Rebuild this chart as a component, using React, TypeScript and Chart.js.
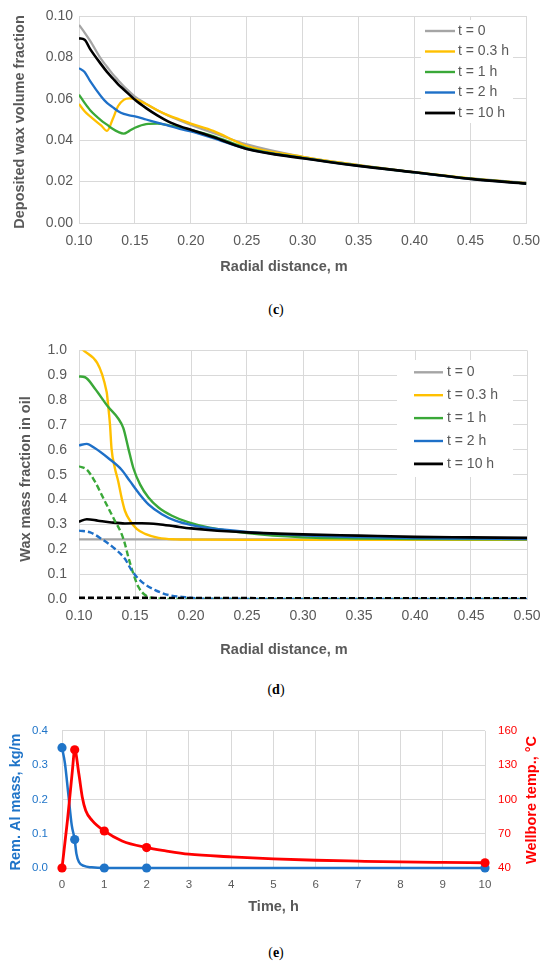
import React, { useEffect, useRef } from "react";
import { Chart, registerables } from "chart.js";

Chart.register(...registerables);

// ---------- Chart (c): deposited wax volume fraction ----------
const rC = [0.10, 0.105, 0.11, 0.12, 0.125, 0.13, 0.135, 0.14, 0.145, 0.15, 0.16, 0.17, 0.18, 0.19, 0.20, 0.22, 0.25, 0.30, 0.35, 0.40, 0.45, 0.50];
const wax0C = [0.0957, 0.092, 0.088, 0.079, 0.0755, 0.072, 0.069, 0.066, 0.0635, 0.061, 0.0575, 0.0545, 0.0518, 0.0495, 0.0474, 0.0435, 0.038, 0.032, 0.028, 0.0245, 0.0215, 0.0195];
const wax03C = [0.0575, 0.054, 0.0515, 0.047, 0.0445, 0.050, 0.0565, 0.0595, 0.0602, 0.0598, 0.0575, 0.0545, 0.052, 0.050, 0.048, 0.0445, 0.0372, 0.032, 0.028, 0.0246, 0.0215, 0.0192];
const wax1C = [0.062, 0.058, 0.0545, 0.0495, 0.0475, 0.0455, 0.044, 0.0432, 0.0445, 0.046, 0.0478, 0.048, 0.0472, 0.0462, 0.045, 0.042, 0.0362, 0.0315, 0.0277, 0.0245, 0.0214, 0.0191];
const wax2C = [0.0748, 0.073, 0.0685, 0.061, 0.058, 0.056, 0.054, 0.0527, 0.052, 0.0515, 0.050, 0.0485, 0.047, 0.0455, 0.0442, 0.041, 0.0358, 0.0313, 0.0276, 0.0245, 0.0213, 0.019];
const wax10C = [0.0892, 0.0885, 0.084, 0.0765, 0.073, 0.070, 0.067, 0.0645, 0.062, 0.0595, 0.0555, 0.052, 0.049, 0.0468, 0.045, 0.0415, 0.0358, 0.0313, 0.0276, 0.0245, 0.0213, 0.019];

// ---------- Chart (d): wax mass fraction in oil ----------
const rD0 = [0.10, 0.50];
const oil0D = [0.24, 0.24];
const rD03 = [0.10, 0.1247, 0.126, 0.1277, 0.129, 0.132, 0.135, 0.138, 0.141, 0.1455, 0.1515, 0.159, 0.171, 0.186, 0.20, 0.25, 0.30, 0.40, 0.50];
const oil03D = [1.02, 0.833, 0.78, 0.70, 0.607, 0.527, 0.474, 0.408, 0.355, 0.315, 0.282, 0.262, 0.246, 0.240, 0.239, 0.238, 0.238, 0.238, 0.238];
const rD1 = [0.10, 0.1054, 0.1143, 0.126, 0.135, 0.1396, 0.144, 0.1485, 0.1545, 0.162, 0.171, 0.183, 0.198, 0.2155, 0.25, 0.30, 0.35, 0.40, 0.50];
const oil1D = [0.895, 0.892, 0.846, 0.773, 0.726, 0.687, 0.607, 0.527, 0.461, 0.408, 0.368, 0.335, 0.308, 0.288, 0.265, 0.248, 0.243, 0.241, 0.240];
const rD2 = [0.10, 0.107, 0.114, 0.126, 0.138, 0.1455, 0.153, 0.162, 0.174, 0.186, 0.2006, 0.2155, 0.25, 0.30, 0.35, 0.40, 0.45, 0.50];
const oil2D = [0.618, 0.624, 0.607, 0.567, 0.52, 0.474, 0.428, 0.381, 0.341, 0.315, 0.297, 0.2855, 0.270, 0.256, 0.249, 0.245, 0.243, 0.241];
const rD10 = [0.10, 0.107, 0.117, 0.129, 0.141, 0.156, 0.171, 0.186, 0.20, 0.2155, 0.25, 0.30, 0.35, 0.40, 0.45, 0.50];
const oil10D = [0.311, 0.321, 0.315, 0.308, 0.304, 0.305, 0.301, 0.292, 0.284, 0.2775, 0.268, 0.26, 0.255, 0.25, 0.248, 0.246];
// dashed companions
const rD03d = [0.10, 0.50];
const oil03Dd = [0, 0];
const rD1d = [0.10, 0.107, 0.114, 0.123, 0.132, 0.138, 0.141, 0.144, 0.1485, 0.153, 0.159, 0.168, 0.186, 0.50];
const oil1Dd = [0.534, 0.52, 0.474, 0.394, 0.315, 0.262, 0.222, 0.169, 0.102, 0.049, 0.016, 0.003, 0, 0];
const rD2d = [0.10, 0.11, 0.12, 0.132, 0.141, 0.147, 0.156, 0.168, 0.18, 0.195, 0.2155, 0.50];
const oil2Dd = [0.275, 0.268, 0.242, 0.202, 0.162, 0.115, 0.069, 0.036, 0.016, 0.007, 0.001, 0];
const rD10d = [0.10, 0.20, 0.30, 0.50];
const oil10Dd = [0.005, 0.004, 0.003, 0.003];

// ---------- Chart (e): Al mass and wellbore temperature ----------
const tMarks = [0, 0.3, 1, 2, 10];
const alMarks = [0.351, 0.083, 0, 0, 0];
const tempMarks = [40, 143.5, 72.4, 57.9, 44.6];
const tAlCurve = [0, 0.07, 0.15, 0.23, 0.3, 0.34, 0.4, 0.52, 0.7, 1, 2, 10];
const alCurve = [0.351, 0.305, 0.215, 0.125, 0.083, 0.042, 0.0175, 0.006, 0.002, 0, 0, 0];
const tTempCurve = [0, 0.13, 0.245, 0.3, 0.4, 0.48, 0.56, 0.71, 1, 1.42, 2, 2.45, 3, 4, 5, 6, 7, 8, 9, 10];
const tempCurve = [40, 82, 125, 143.5, 122, 102, 90.4, 81.7, 72.4, 63.7, 57.9, 55, 52.1, 49.8, 48, 46.8, 46, 45.3, 44.9, 44.6];

const seriesLabels = ["t = 0", "t = 0.3 h", "t = 1 h", "t = 2 h", "t = 10 h"];

// ---------- styles ----------
const GRID = "#d9d9d9";
const TXT = "#595959";
const SANS = "'Liberation Sans', Arial, sans-serif";
const C_GREY = "#a5a5a5";
const C_YEL = "#ffc000";
const C_GRN = "#3aa838";
const C_BLU = "#1e70c8";
const C_BLK = "#000000";
const C_RED = "#ff0000";
const C_EBLU = "#1f74c8";

const pts = (xs: number[], ys: number[]) => xs.map((x, i) => ({ x, y: ys[i] }));

function line(label: string | undefined, xs: number[], ys: number[], color: string, width: number, dash: number[] = []) {
  return {
    label,
    data: pts(xs, ys),
    borderColor: color,
    backgroundColor: color,
    borderWidth: width,
    borderDash: dash,
    pointRadius: 0,
    cubicInterpolationMode: "monotone" as const,
    fill: false,
  };
}

function withOrder(ds: any[]) {
  return ds.map((d, i) => ({ ...d, order: ds.length - i }));
}

type TitleItem = { text: string; x: number; y: number; rot?: number; color: string; font: string };
function titlesPlugin(items: TitleItem[]) {
  return {
    id: "axisTitles",
    afterDraw(chart: any) {
      const ctx = chart.ctx;
      items.forEach((it) => {
        ctx.save();
        ctx.font = it.font;
        ctx.fillStyle = it.color;
        ctx.textAlign = "center";
        ctx.textBaseline = "middle";
        ctx.translate(it.x, it.y);
        if (it.rot) ctx.rotate(it.rot);
        ctx.fillText(it.text, 0, 0);
        ctx.restore();
      });
    },
  };
}

type LegendCfg = { box: [number, number, number, number]; x0: number; x1: number; tx: number; y0: number; dy: number };
function legendPlugin(cfg: LegendCfg) {
  return {
    id: "boxLegend",
    afterDraw(chart: any) {
      const ctx = chart.ctx;
      ctx.save();
      ctx.fillStyle = "#ffffff";
      ctx.fillRect(cfg.box[0], cfg.box[1], cfg.box[2], cfg.box[3]);
      const items = chart.data.datasets.filter((d: any) => !!d.label);
      items.forEach((d: any, i: number) => {
        const y = cfg.y0 + i * cfg.dy;
        ctx.strokeStyle = d.borderColor;
        ctx.lineWidth = d.borderColor === C_BLK ? 2.8 : 2.4;
        ctx.beginPath();
        ctx.moveTo(cfg.x0, y);
        ctx.lineTo(cfg.x1, y);
        ctx.stroke();
        ctx.fillStyle = TXT;
        ctx.font = `14px ${SANS}`;
        ctx.textAlign = "left";
        ctx.textBaseline = "middle";
        ctx.fillText(d.label, cfg.tx, y);
      });
      ctx.restore();
    },
  };
}

function baseOptions() {
  return {
    responsive: false,
    maintainAspectRatio: false,
    animation: false as const,
    events: [] as any[],
    plugins: { legend: { display: false }, tooltip: { enabled: false }, title: { display: false } },
  };
}

function configC(): any {
  const datasets = withOrder([
    line(seriesLabels[0], rC, wax0C, C_GREY, 2.3),
    line(seriesLabels[1], rC, wax03C, C_YEL, 2.3),
    line(seriesLabels[2], rC, wax1C, C_GRN, 2.3),
    line(seriesLabels[3], rC, wax2C, C_BLU, 2.3),
    line(seriesLabels[4], rC, wax10C, C_BLK, 2.6),
  ]);
  return {
    type: "line",
    data: { datasets },
    options: {
      ...baseOptions(),
      layout: { padding: { left: 0, right: 23, top: 16, bottom: 0 } },
      scales: {
        x: {
          type: "linear",
          min: 0.1,
          max: 0.5,
          ticks: { stepSize: 0.05, padding: 10, color: TXT, font: { family: SANS, size: 14 }, callback: (v: any) => Number(v).toFixed(2) },
          grid: { color: GRID, drawTicks: false },
          border: { color: GRID },
          afterFit: (s: any) => { s.height = 67; },
        },
        y: {
          type: "linear",
          min: 0,
          max: 0.1,
          ticks: { stepSize: 0.02, padding: 6, color: TXT, font: { family: SANS, size: 14 }, callback: (v: any) => Number(v).toFixed(2) },
          grid: { color: GRID, drawTicks: false },
          border: { color: GRID },
          afterFit: (s: any) => { s.width = 79; },
        },
      },
    },
    plugins: [
      titlesPlugin([
        { text: "Radial distance, m", x: 284, y: 267, color: TXT, font: `bold 14.5px ${SANS}` },
        { text: "Deposited wax volume fraction", x: 20, y: 122, rot: -Math.PI / 2, color: TXT, font: `bold 14.5px ${SANS}` },
      ]),
      legendPlugin({ box: [421, 20, 92, 103], x0: 425, x1: 455, tx: 458, y0: 31, dy: 20.5 }),
    ],
  };
}

function configD(): any {
  const datasets = withOrder([
    line(seriesLabels[0], rD0, oil0D, C_GREY, 2.2),
    line(seriesLabels[1], rD03, oil03D, C_YEL, 2.4),
    line(seriesLabels[2], rD1, oil1D, C_GRN, 2.4),
    line(seriesLabels[3], rD2, oil2D, C_BLU, 2.4),
    line(seriesLabels[4], rD10, oil10D, C_BLK, 2.6),
    line(undefined, rD03d, oil03Dd, C_YEL, 2.4, [6, 3]),
    line(undefined, rD1d, oil1Dd, C_GRN, 2.4, [6, 3]),
    line(undefined, rD2d, oil2Dd, C_BLU, 2.4, [6, 3]),
    line(undefined, rD10d, oil10Dd, C_BLK, 2.6, [6, 3]),
  ]);
  return {
    type: "line",
    data: { datasets },
    options: {
      ...baseOptions(),
      layout: { padding: { left: 0, right: 23, top: 18, bottom: 0 } },
      scales: {
        x: {
          type: "linear",
          min: 0.1,
          max: 0.5,
          ticks: { stepSize: 0.05, padding: 9, color: TXT, font: { family: SANS, size: 14 }, callback: (v: any) => Number(v).toFixed(2) },
          grid: { color: GRID, drawTicks: false },
          border: { color: GRID },
          afterFit: (s: any) => { s.height = 71; },
        },
        y: {
          type: "linear",
          min: 0,
          max: 1,
          ticks: { stepSize: 0.1, padding: 12, color: TXT, font: { family: SANS, size: 14 }, callback: (v: any) => Number(v).toFixed(1) },
          grid: { color: GRID, drawTicks: false },
          border: { color: GRID },
          afterFit: (s: any) => { s.width = 79; },
        },
      },
    },
    plugins: [
      titlesPlugin([
        { text: "Radial distance, m", x: 284, y: 320, color: TXT, font: `bold 14.5px ${SANS}` },
        { text: "Wax mass fraction in oil", x: 26, y: 149, rot: -Math.PI / 2, color: TXT, font: `bold 14.5px ${SANS}` },
      ]),
      legendPlugin({ box: [397, 30, 116, 117], x0: 414, x1: 443, tx: 447, y0: 42.3, dy: 22.9 }),
    ],
  };
}

function configE(): any {
  const marker = (xs: number[], ys: number[], color: string, axis: string) => ({
    data: pts(xs, ys),
    yAxisID: axis,
    showLine: false,
    pointRadius: 4.6,
    pointBorderWidth: 0,
    pointBackgroundColor: color,
    borderColor: color,
    backgroundColor: color,
    clip: false,
  });
  const curve = (xs: number[], ys: number[], color: string, axis: string, w: number) => ({
    ...line(undefined, xs, ys, color, w),
    yAxisID: axis,
    clip: false,
  });
  const datasets = withOrder([
    curve(tAlCurve, alCurve, C_EBLU, "y", 2.5),
    marker(tMarks, alMarks, C_EBLU, "y"),
    curve(tTempCurve, tempCurve, C_RED, "y2", 2.8),
    marker(tMarks, tempMarks, C_RED, "y2"),
  ]);
  return {
    type: "line",
    data: { datasets },
    options: {
      ...baseOptions(),
      layout: { padding: { left: 0, right: 0, top: 20, bottom: 0 } },
      scales: {
        x: {
          type: "linear",
          min: 0,
          max: 10,
          ticks: { stepSize: 1, padding: 10, color: TXT, font: { family: SANS, size: 11.5 } },
          grid: { color: GRID, drawTicks: false },
          border: { color: GRID },
          afterFit: (s: any) => { s.height = 57; },
        },
        y: {
          type: "linear",
          position: "left",
          min: 0,
          max: 0.4,
          ticks: { stepSize: 0.1, padding: 14, color: C_EBLU, font: { family: SANS, size: 11.5 }, callback: (v: any) => Number(v).toFixed(1) },
          grid: { color: GRID, drawTicks: false },
          border: { color: GRID },
          afterFit: (s: any) => { s.width = 62; },
        },
        y2: {
          type: "linear",
          position: "right",
          min: 40,
          max: 160,
          ticks: { stepSize: 30, padding: 13, color: C_RED, font: { family: SANS, size: 11.5 } },
          grid: { display: false, drawTicks: false },
          border: { display: false },
          afterFit: (s: any) => { s.width = 65; },
        },
      },
    },
    plugins: [
      titlesPlugin([
        { text: "Time, h", x: 273.5, y: 197, color: TXT, font: `bold 14.5px ${SANS}` },
        { text: "Rem. Al mass, kg/m", x: 15.5, y: 92, rot: -Math.PI / 2, color: C_EBLU, font: `bold 14.5px ${SANS}` },
        { text: "Wellbore temp., °C", x: 532, y: 90, rot: -Math.PI / 2, color: C_RED, font: `bold 14.5px ${SANS}` },
      ]),
    ],
  };
}

const captionStyle = (top: number): React.CSSProperties => ({
  position: "absolute",
  left: 0,
  width: 552,
  top,
  height: 16,
  lineHeight: "16px",
  textAlign: "center",
  fontFamily: "'Liberation Serif', 'Times New Roman', serif",
  fontSize: 14,
  color: "#000",
});

export default function App() {
  const refC = useRef<HTMLCanvasElement>(null);
  const refD = useRef<HTMLCanvasElement>(null);
  const refE = useRef<HTMLCanvasElement>(null);

  useEffect(() => {
    const charts = [
      new Chart(refC.current as HTMLCanvasElement, configC()),
      new Chart(refD.current as HTMLCanvasElement, configD()),
      new Chart(refE.current as HTMLCanvasElement, configE()),
    ];
    return () => charts.forEach((c) => c.destroy());
  }, []);

  return (
    <div style={{ position: "absolute", left: 0, top: 0, width: 550, height: 965, background: "#ffffff", overflow: "hidden" }}>
      <canvas ref={refC} width={550} height={290} style={{ position: "absolute", left: 0, top: 0, width: 550, height: 290 }} />
      <div style={captionStyle(302)}>(<b>c</b>)</div>
      <canvas ref={refD} width={550} height={340} style={{ position: "absolute", left: 0, top: 330, width: 550, height: 340 }} />
      <div style={captionStyle(682)}>(<b>d</b>)</div>
      <canvas ref={refE} width={550} height={215} style={{ position: "absolute", left: 0, top: 710, width: 550, height: 215 }} />
      <div style={captionStyle(945)}>(<b>e</b>)</div>
    </div>
  );
}
